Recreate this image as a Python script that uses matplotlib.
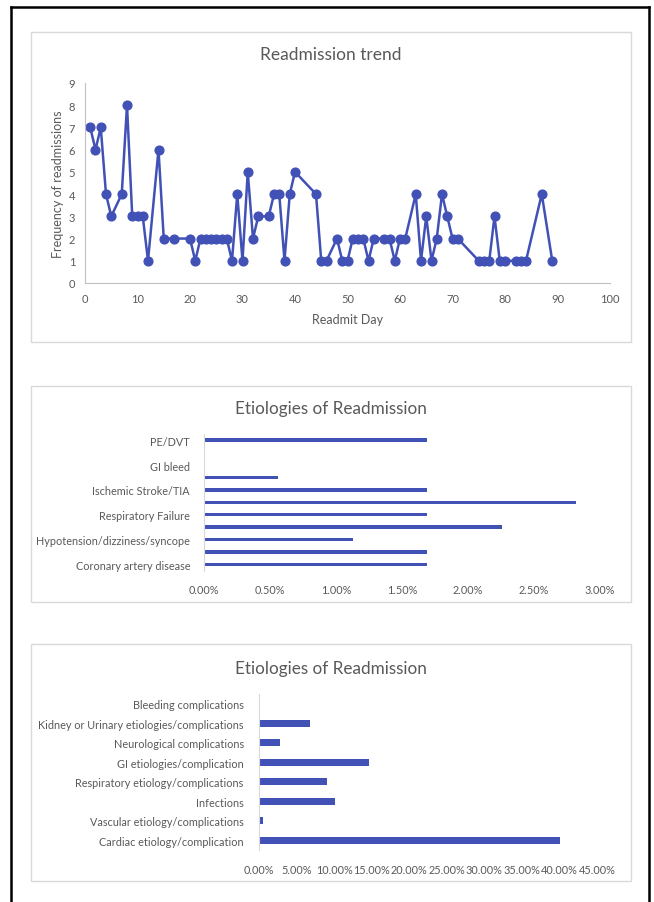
import matplotlib
matplotlib.use('Agg')
import matplotlib.pyplot as plt
from matplotlib.patches import Rectangle
from matplotlib.lines import Line2D
from matplotlib.ticker import FuncFormatter

W, H = 654, 903

# readmission trend (day, frequency)
days = [1, 2, 3, 4, 5, 7, 8, 9, 10, 11, 12, 14, 15, 17, 20, 21, 22, 23, 24, 25,
        26, 27, 28, 29, 30, 31, 32, 33, 35, 36, 37, 38, 39, 40, 44, 45, 46, 48, 49, 50,
        51, 52, 53, 54, 55, 57, 58, 59, 60, 61, 63, 64, 65, 66, 67, 68, 69, 70, 71, 75,
        76, 77, 78, 79, 80, 82, 83, 84, 87, 89]
counts = [7, 6, 7, 4, 3, 4, 8, 3, 3, 3, 1, 6, 2, 2, 2, 1, 2, 2, 2, 2,
          2, 2, 1, 4, 1, 5, 2, 3, 3, 4, 4, 1, 4, 5, 4, 1, 1, 2, 1, 1,
          2, 2, 2, 1, 2, 2, 2, 1, 2, 2, 4, 1, 3, 1, 2, 4, 3, 2, 2, 1,
          1, 1, 3, 1, 1, 1, 1, 1, 4, 1]

# first etiology chart (bottom to top), every other label hidden
etio1_labels = ['Coronary artery disease', '', 'Hypotension/dizziness/syncope', '',
                'Respiratory Failure', '', 'Ischemic Stroke/TIA', '', 'GI bleed', '',
                'PE/DVT']
etio1_pct = [1.69, 1.69, 1.13, 2.26, 1.69, 2.82, 1.69, 0.56, 0.0, 0.0, 1.69]

# second etiology chart (bottom to top)
etio2_labels = ['Cardiac etiology/complication', 'Vascular etiology/complications',
                'Infections', 'Respiratory etiology/complications',
                'GI etiologies/complication', 'Neurological complications',
                'Kidney or Urinary etiologies/complications', 'Bleeding complications']
etio2_pct = [40.11, 0.56, 10.17, 9.04, 14.69, 2.82, 6.78, 0.0]

BLUE = '#4151B6'
TXT = '#595959'
AXC = '#BFBFBF'
FONT = 'Lato'

plt.rcParams['font.family'] = [FONT, 'DejaVu Sans']
plt.rcParams['font.size'] = 8


def px_axes(fig, x0, y0, x1, y1):
    return fig.add_axes([x0 / W, 1 - y1 / H, (x1 - x0) / W, (y1 - y0) / H])


def px_box(fig, x0, y0, x1, y1):
    r = Rectangle((x0 / W, 1 - y1 / H), (x1 - x0) / W, (y1 - y0) / H,
                  transform=fig.transFigure, fill=False, edgecolor='#D9D9D9', lw=1)
    fig.add_artist(r)


def pct_fmt(v, pos):
    return '{:.2f}%'.format(v)


fig = plt.figure(figsize=(W / 100, H / 100), dpi=100)

# outer black frame
for xs, ys in [([10.5, 10.5], [8, 903]), ([10.5, 649], [8, 8]), ([649, 649], [8, 903])]:
    fig.add_artist(Line2D([x / W for x in xs], [1 - y / H for y in ys],
                          transform=fig.transFigure, color='black', lw=1.8))

px_box(fig, 30.7, 33, 630.7, 343)
px_box(fig, 30.7, 387.3, 630.7, 602.7)
px_box(fig, 30.7, 645, 630.7, 882)

# ---- line chart ----
ax = px_axes(fig, 85, 84, 610, 284)
ax.plot(days, counts, color=BLUE, lw=1.8, marker='o', markersize=6.3, clip_on=False)
ax.set_xlim(0, 100)
ax.set_ylim(0, 9)
ax.set_xticks(range(0, 101, 10))
ax.set_yticks(range(0, 10))
for s in ['top', 'right']:
    ax.spines[s].set_visible(False)
for s in ['left', 'bottom']:
    ax.spines[s].set_color(AXC)
    ax.spines[s].set_linewidth(0.8)
ax.tick_params(length=0, colors=TXT, labelsize=8, pad=7)
ax.set_xlabel('Readmit Day', color=TXT, fontsize=9, labelpad=7)
ax.set_ylabel('Frequency of readmissions', color=TXT, fontsize=9, labelpad=3)
fig.text(330.7 / W, 1 - 55 / H, 'Readmission trend', ha='center', va='center',
         color=TXT, fontsize=12.5)

# ---- etiology chart 1 ----
ax1 = px_axes(fig, 204, 435, 600, 571.5)
ax1.barh(range(len(etio1_pct)), etio1_pct, height=0.28, color=BLUE)
ax1.set_xlim(0, 3)
ax1.set_ylim(-0.5, len(etio1_pct) - 0.5)
ax1.set_xticks([0, 0.5, 1, 1.5, 2, 2.5, 3])
ax1.xaxis.set_major_formatter(FuncFormatter(pct_fmt))
ax1.set_yticks(range(len(etio1_labels)))
ax1.set_yticklabels(etio1_labels)
for s in ['top', 'right', 'bottom']:
    ax1.spines[s].set_visible(False)
ax1.spines['left'].set_color('#D9D9D9')
ax1.tick_params(length=0, colors=TXT, labelsize=7.8)
ax1.tick_params(axis='y', pad=10)
ax1.tick_params(axis='x', pad=10)
fig.text(330.7 / W, 1 - 409 / H, 'Etiologies of Readmission', ha='center', va='center',
         color=TXT, fontsize=12.3)

# ---- etiology chart 2 ----
ax2 = px_axes(fig, 259, 695, 597, 851)
ax2.barh(range(len(etio2_pct)), etio2_pct, height=0.35, color=BLUE)
ax2.set_xlim(0, 45)
ax2.set_ylim(-0.5, len(etio2_pct) - 0.5)
ax2.set_xticks(range(0, 46, 5))
ax2.xaxis.set_major_formatter(FuncFormatter(pct_fmt))
ax2.set_yticks(range(len(etio2_labels)))
ax2.set_yticklabels(etio2_labels)
for s in ['top', 'right', 'bottom']:
    ax2.spines[s].set_visible(False)
ax2.spines['left'].set_color('#D9D9D9')
ax2.tick_params(length=0, colors=TXT, labelsize=7.8)
ax2.tick_params(axis='y', pad=11)
ax2.tick_params(axis='x', pad=10)
fig.text(330.7 / W, 1 - 669 / H, 'Etiologies of Readmission', ha='center', va='center',
         color=TXT, fontsize=12.3)

fig.savefig('out.png', dpi=100)
